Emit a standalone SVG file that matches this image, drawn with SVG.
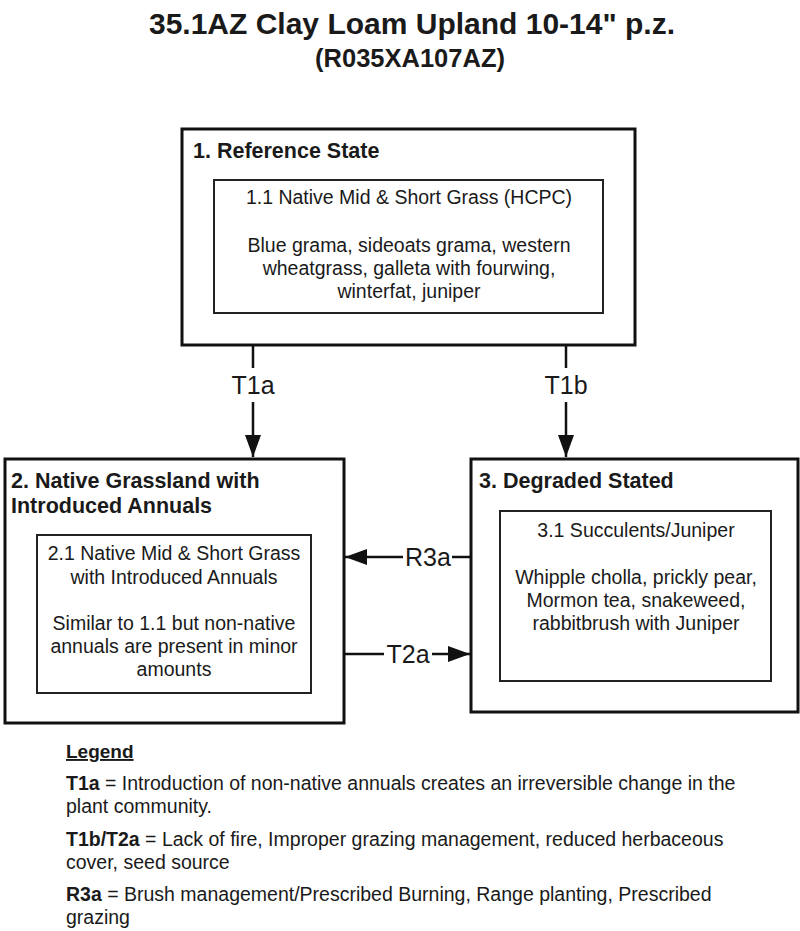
<svg xmlns="http://www.w3.org/2000/svg" width="800" height="931" viewBox="0 0 800 931">
<style>
.t{font-family:"Liberation Sans",Arial,sans-serif;fill:#1a1a1a}
.b{font-weight:bold}
.box{fill:#fff;stroke:#111;stroke-width:3}
.inner{fill:#fff;stroke:#222;stroke-width:2}
.c{font-size:19.5px;text-anchor:middle}
.hd{font-size:21.5px;font-weight:bold}
.lbl{font-size:25px;text-anchor:middle}
.lg{font-size:19.5px}
.ln{stroke:#111;stroke-width:2.5;fill:none}
</style>
<defs>
<marker id="ah" markerWidth="22" markerHeight="16" refX="22" refY="8" orient="auto" markerUnits="userSpaceOnUse" viewBox="0 0 22 16">
<path d="M0,0 L22,8 L0,16 Z" fill="#111"/>
</marker>
</defs>
<rect width="800" height="931" fill="#fff"/>
<g id="title">
<text class="t b" x="412" y="34" font-size="30" text-anchor="middle">35.1AZ Clay Loam Upland 10-14" p.z.</text>
<text class="t b" x="410" y="67" font-size="25.5" text-anchor="middle">(R035XA107AZ)</text>
</g>
<g id="connectors">
<line class="ln" x1="253" y1="346" x2="253" y2="368"/>
<line class="ln" x1="253" y1="402" x2="253" y2="457" marker-end="url(#ah)"/>
<text class="t lbl" x="253" y="394">T1a</text>
<line class="ln" x1="566" y1="346" x2="566" y2="368"/>
<line class="ln" x1="566" y1="402" x2="566" y2="457" marker-end="url(#ah)"/>
<text class="t lbl" x="566" y="394">T1b</text>
<line class="ln" x1="470" y1="557" x2="452" y2="557"/>
<line class="ln" x1="403" y1="557" x2="345" y2="557" marker-end="url(#ah)"/>
<text class="t lbl" x="428" y="566">R3a</text>
<line class="ln" x1="345" y1="654" x2="384" y2="654"/>
<line class="ln" x1="432" y1="654" x2="470" y2="654" marker-end="url(#ah)"/>
<text class="t lbl" x="408" y="663">T2a</text>
</g>
<g id="state1">
<rect class="box" x="182" y="129" width="453" height="216"/>
<text class="t hd" x="193" y="158">1. Reference State</text>
<rect class="inner" x="214" y="180" width="389" height="133"/>
<text class="t c" x="409" y="204">1.1 Native Mid &amp; Short Grass (HCPC)</text>
<text class="t c" x="409" y="252">Blue grama, sideoats grama, western</text>
<text class="t c" x="409" y="275">wheatgrass, galleta with fourwing,</text>
<text class="t c" x="409" y="298">winterfat, juniper</text>
</g>
<g id="state2">
<rect class="box" x="5" y="459" width="339" height="264"/>
<text class="t hd" x="11" y="488">2. Native Grassland with</text>
<text class="t hd" x="11" y="513">Introduced Annuals</text>
<rect class="inner" x="37" y="535" width="274" height="158"/>
<text class="t c" x="174" y="560">2.1 Native Mid &amp; Short Grass</text>
<text class="t c" x="174" y="584">with Introduced Annuals</text>
<text class="t c" x="174" y="630">Similar to 1.1 but non-native</text>
<text class="t c" x="174" y="653">annuals are present in minor</text>
<text class="t c" x="174" y="676">amounts</text>
</g>
<g id="state3">
<rect class="box" x="471" y="459" width="327" height="253"/>
<text class="t hd" x="479" y="488">3. Degraded Stated</text>
<rect class="inner" x="500" y="511" width="271" height="170"/>
<text class="t c" x="636" y="537">3.1 Succulents/Juniper</text>
<text class="t c" x="636" y="584">Whipple cholla, prickly pear,</text>
<text class="t c" x="636" y="607">Mormon tea, snakeweed,</text>
<text class="t c" x="636" y="630">rabbitbrush with Juniper</text>
</g>
<g id="legend">
<text class="t b" x="66" y="758" font-size="19" text-decoration="underline">Legend</text>
<text class="t lg" x="66" y="790"><tspan class="b">T1a</tspan> = Introduction of non-native annuals creates an irreversible change in the</text>
<text class="t lg" x="66" y="813">plant community.</text>
<text class="t lg" x="66" y="846"><tspan class="b">T1b/T2a</tspan> = Lack of fire, Improper grazing management, reduced herbaceous</text>
<text class="t lg" x="66" y="869">cover, seed source</text>
<text class="t lg" x="66" y="901"><tspan class="b">R3a</tspan> = Brush management/Prescribed Burning, Range planting, Prescribed</text>
<text class="t lg" x="66" y="924">grazing</text>
</g>
</svg>
